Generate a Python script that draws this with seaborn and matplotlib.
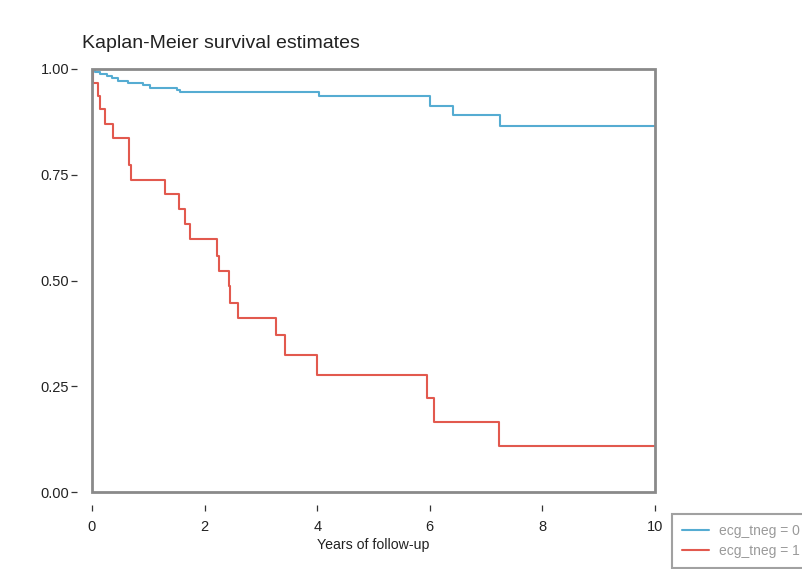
import matplotlib
matplotlib.use("Agg")
import matplotlib.pyplot as plt
import seaborn as sns
import pandas as pd
from matplotlib.patches import Rectangle

# ---- data ----
group_labels = ["ecg_tneg = 0", "ecg_tneg = 1"]

times_0 = [0, 0.05, 0.15, 0.27, 0.36, 0.46, 0.64, 0.91, 1.03, 1.51, 1.57, 4.04, 6.0, 6.42, 7.24, 10]
surv_0 = [1.0, 0.993, 0.988, 0.983, 0.978, 0.972, 0.968, 0.963, 0.956, 0.951, 0.946, 0.935, 0.913, 0.891, 0.866, 0.866]

times_1 = [0, 0.02, 0.11, 0.14, 0.23, 0.37, 0.65, 0.70, 1.30, 1.54, 1.66, 1.74, 2.22, 2.25,
           2.43, 2.46, 2.60, 3.26, 3.43, 4.0, 5.95, 6.07, 7.23, 10]
surv_1 = [1.0, 0.967, 0.937, 0.905, 0.870, 0.836, 0.773, 0.738, 0.704, 0.668, 0.633, 0.597, 0.558, 0.522,
          0.487, 0.447, 0.411, 0.370, 0.325, 0.277, 0.222, 0.165, 0.109, 0.109]

x_ticks = [0, 2, 4, 6, 8, 10]
y_ticks = [0.0, 0.25, 0.5, 0.75, 1.0]
y_ticklabels = ["0.00", "0.25", "0.50", "0.75", "1.00"]

df = pd.concat([
    pd.DataFrame({"time": times_0, "surv": surv_0, "group": group_labels[0]}),
    pd.DataFrame({"time": times_1, "surv": surv_1, "group": group_labels[1]}),
], ignore_index=True)

sns.set_style("white")
plt.rcParams["font.family"] = ["Liberation Sans", "DejaVu Sans"]

fig = plt.figure(figsize=(8.03, 5.69), dpi=100)
ax = fig.add_axes([92 / 803, 1 - 492 / 569, (655 - 92) / 803, (492 - 69) / 569])

palette = {group_labels[0]: "#55acd2", group_labels[1]: "#e2594e"}
sns.lineplot(data=df, x="time", y="surv", hue="group", palette=palette,
             estimator=None, sort=False, drawstyle="steps-post",
             linewidth=1.5, ax=ax, legend=True)

ax.set_xlim(0, 10)
ax.set_ylim(0, 1)
ax.set_xticks(x_ticks)
ax.set_xticklabels([str(t) for t in x_ticks])
ax.set_yticks(y_ticks)
ax.set_yticklabels(y_ticklabels)

# frame drawn as rectangle, spines offset so ticks sit away from the frame
for s in ax.spines.values():
    s.set_color("none")
ax.spines["left"].set_position(("outward", 10.5))
ax.spines["bottom"].set_position(("outward", 9.5))
ax.add_patch(Rectangle((0, 0), 1, 1, transform=ax.transAxes, fill=False,
                       edgecolor="#8a8a8a", linewidth=2, clip_on=False, zorder=5))

ax.tick_params(axis="both", which="both", direction="out", length=4.5, width=0.9,
               color="#333333", labelsize=10.5, labelcolor="#222222",
               left=True, bottom=True)
ax.tick_params(axis="x", pad=6)
ax.tick_params(axis="y", pad=1.5)
ax.set_xlabel("Years of follow-up", fontsize=10.2, color="#222222", labelpad=3)
ax.set_ylabel("")

fig.text(82 / 803, 1 - 43 / 569, "Kaplan-Meier survival estimates", fontsize=14,
         color="#222222", ha="left", va="center")

ax.get_legend().remove()
handles, labels = ax.get_legend_handles_labels()
leg = fig.legend(handles, labels, loc="upper left",
                 bbox_to_anchor=(672 / 803, 1 - 514 / 569), fontsize=10,
                 frameon=True, fancybox=False, edgecolor="#8a8a8a",
                 handlelength=1.95, handletextpad=0.7, borderpad=0.7,
                 labelspacing=0.45, borderaxespad=0)
leg.get_frame().set_linewidth(1.5)
for t in leg.get_texts():
    t.set_color("#9a9a9a")

fig.savefig("out.png", dpi=100, facecolor="white")
